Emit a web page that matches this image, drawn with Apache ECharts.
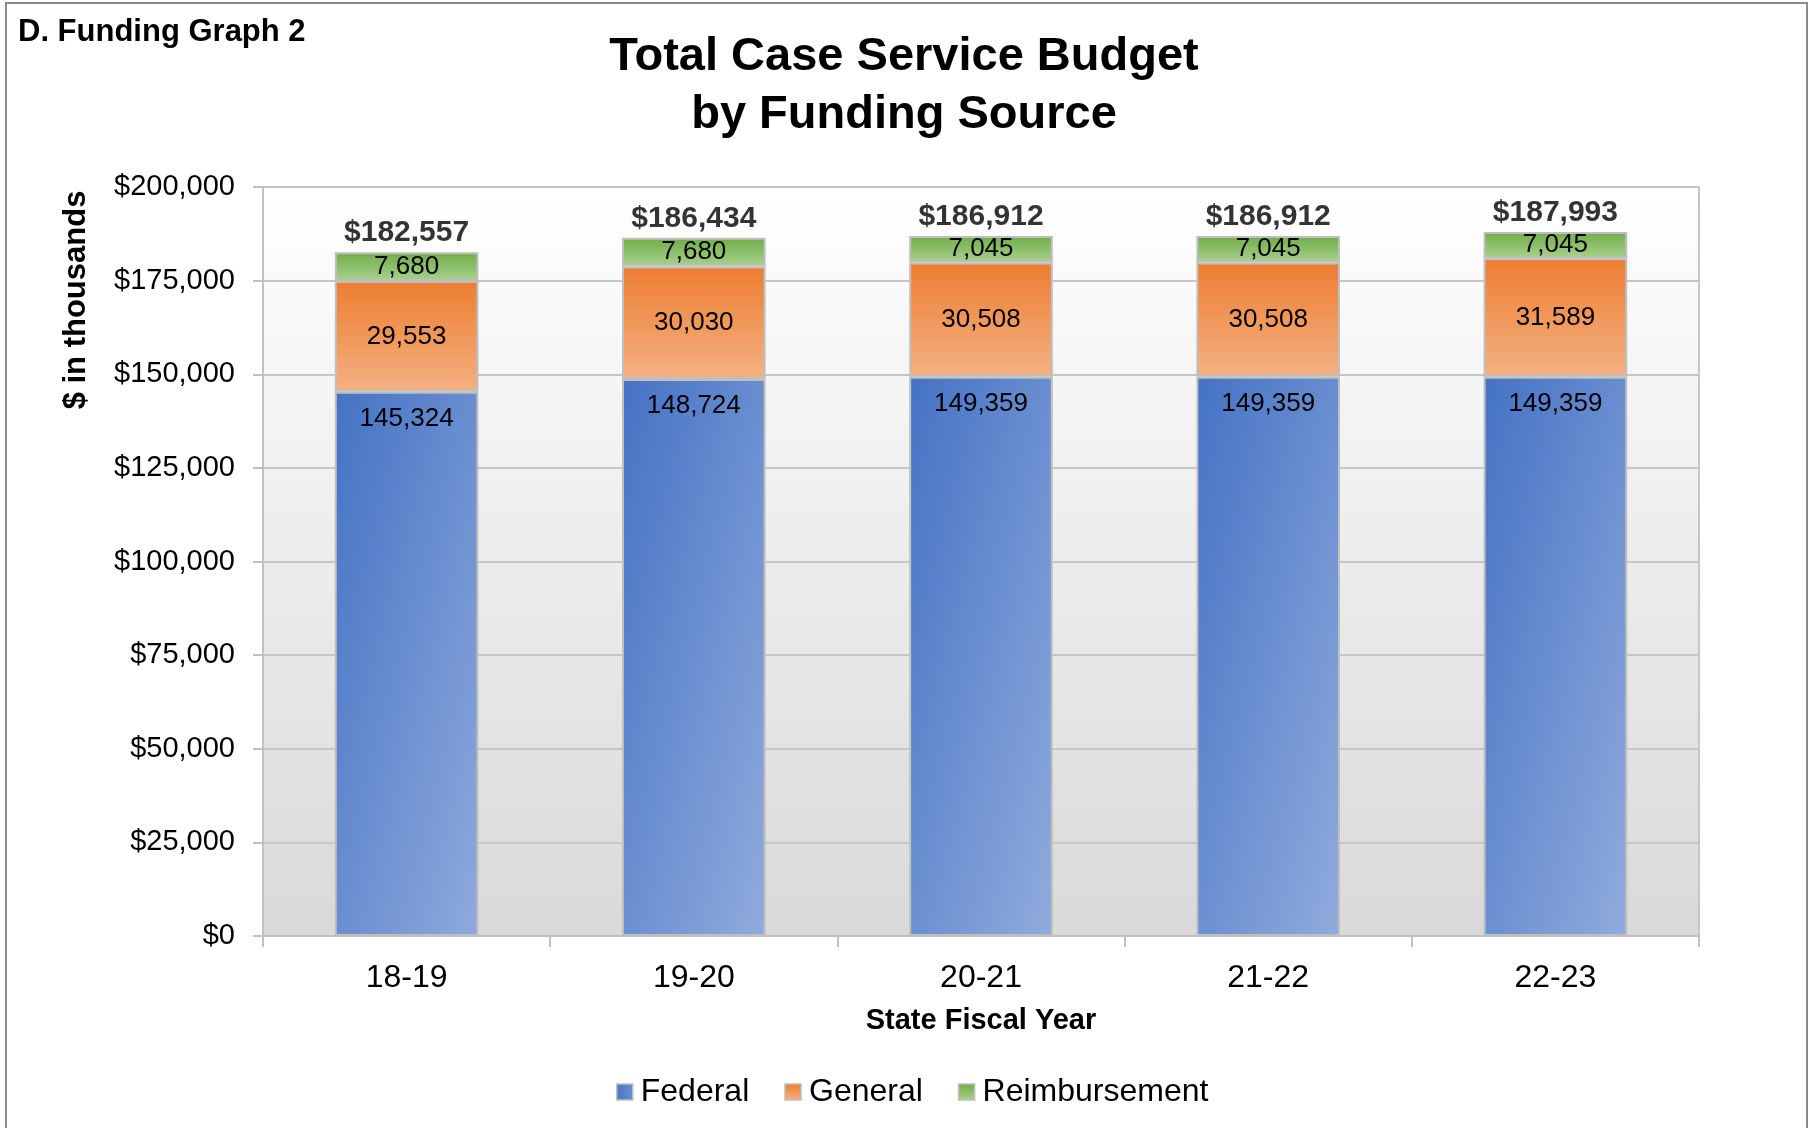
<!DOCTYPE html>
<html>
<head>
<meta charset="utf-8">
<title>Total Case Service Budget by Funding Source</title>
<script src="https://cdn.jsdelivr.net/npm/echarts@6/dist/echarts.min.js"></script>
<style>
  html, body { margin: 0; padding: 0; background: #fff; }
  #main { width: 1808px; height: 1128px; }
</style>
</head>
<body>
<div id="main"></div>
<script>
  // 数据
  var years = ['18-19', '19-20', '20-21', '21-22', '22-23'];
  var federal = [145324, 148724, 149359, 149359, 149359];
  var general = [29553, 30030, 30508, 30508, 31589];
  var reimbursement = [7680, 7680, 7045, 7045, 7045];
  var totals = [182557, 186434, 186912, 186912, 187993];
  var yTicks = [0, 25000, 50000, 75000, 100000, 125000, 150000, 175000, 200000];

  var FONT = 'Liberation Sans, Arial, sans-serif';

  function fmt(v) {
    return Number(v).toLocaleString('en-US');
  }

  var myChart = echarts.init(document.getElementById('main'));

  // 蓝色: 斜向渐变 (左上深 -> 右下浅), 按柱子宽高比换算方向
  var blue = new echarts.graphic.LinearGradient(0, 0, 1.87, 0.13, [
    { offset: 0, color: '#4472c4' },
    { offset: 1, color: '#8faadc' }
  ]);
  var orange = new echarts.graphic.LinearGradient(0, 0, 0, 1, [
    { offset: 0, color: '#ed7d31' },
    { offset: 1, color: '#f4b183' }
  ]);
  var green = new echarts.graphic.LinearGradient(0, 0, 0, 1, [
    { offset: 0, color: '#70ad47' },
    { offset: 1, color: '#a9d18e' }
  ]);

  var option = {
    animation: false,
    textStyle: { fontFamily: FONT, color: '#000' },
    title: [
      {
        text: 'Total Case Service Budget\nby Funding Source',
        left: 'center',
        top: 23,
        textStyle: { fontFamily: FONT, fontSize: 47, fontWeight: 'bold', lineHeight: 58, color: '#000' }
      },
      {
        text: 'D. Funding Graph 2',
        left: 13,
        top: 12,
        textStyle: { fontFamily: FONT, fontSize: 31, fontWeight: 'bold', color: '#000' }
      }
    ],
    legend: {
      data: ['Federal', 'General', 'Reimbursement'],
      left: 611,
      top: 1071,
      icon: 'rect',
      itemWidth: 16,
      itemHeight: 16,
      itemGap: 35,
      itemStyle: { borderColor: '#bfbfbf', borderWidth: 1.5 },
      textStyle: { fontFamily: FONT, fontSize: 32, color: '#000', padding: [0, 0, 0, 3] }
    },
    grid: {
      left: 263,
      top: 187,
      right: 109,
      bottom: 192,
      outerBoundsMode: 'none',
      show: true,
      borderColor: '#c6c6c6',
      borderWidth: 2,
      backgroundColor: new echarts.graphic.LinearGradient(0, 0, 0, 1, [
        { offset: 0, color: '#ffffff' },
        { offset: 1, color: '#d9d9d9' }
      ])
    },
    xAxis: {
      type: 'category',
      data: years,
      name: 'State Fiscal Year',
      nameLocation: 'middle',
      nameGap: 70,
      nameTextStyle: { fontFamily: FONT, fontSize: 29, fontWeight: 'bold', color: '#000' },
      axisLine: { lineStyle: { color: '#c0c0c0', width: 2 } },
      axisTick: { show: true, length: 11, lineStyle: { color: '#c0c0c0', width: 2 } },
      axisLabel: { fontFamily: FONT, fontSize: 32, color: '#000', margin: 26 }
    },
    yAxis: {
      type: 'value',
      min: yTicks[0],
      max: yTicks[yTicks.length - 1],
      interval: yTicks[1] - yTicks[0],
      axisLine: { show: true, lineStyle: { color: '#c0c0c0', width: 2 } },
      axisTick: { show: true, length: 10, lineStyle: { color: '#c0c0c0', width: 2 } },
      axisLabel: {
        fontFamily: FONT,
        fontSize: 29,
        color: '#000',
        margin: 28,
        formatter: function (v) { return '$' + fmt(v); }
      },
      splitLine: { show: true, lineStyle: { color: '#c6c6c6', width: 2 } }
    },
    series: [
      {
        name: 'Federal',
        type: 'bar',
        stack: 'total',
        barWidth: '50%',
        data: federal,
        itemStyle: { color: blue, borderColor: '#bfbfbf', borderWidth: 2 },
        label: {
          show: true,
          position: 'insideTop',
          distance: 14,
          fontFamily: FONT,
          fontSize: 26,
          color: '#000',
          formatter: function (p) { return fmt(p.value); }
        }
      },
      {
        name: 'General',
        type: 'bar',
        stack: 'total',
        data: general,
        itemStyle: { color: orange, borderColor: '#bfbfbf', borderWidth: 2 },
        label: {
          show: true,
          position: 'inside',
          fontFamily: FONT,
          fontSize: 26,
          color: '#000',
          formatter: function (p) { return fmt(p.value); }
        }
      },
      {
        name: 'Reimbursement',
        type: 'bar',
        stack: 'total',
        data: reimbursement,
        itemStyle: { color: green, borderColor: '#bfbfbf', borderWidth: 2 },
        label: {
          show: true,
          position: 'inside',
          fontFamily: FONT,
          fontSize: 26,
          color: '#000',
          formatter: function (p) { return fmt(p.value); }
        }
      },
      {
        // 总计标签
        name: 'Total',
        type: 'scatter',
        data: totals,
        symbolSize: 1,
        itemStyle: { color: 'rgba(0,0,0,0)' },
        z: 5,
        label: {
          show: true,
          position: 'top',
          distance: 4,
          fontFamily: FONT,
          fontSize: 30,
          fontWeight: 'bold',
          color: '#000',
          formatter: function (p) { return '$' + fmt(p.value); }
        }
      }
    ],
    graphic: [
      {
        type: 'text',
        x: 76,
        y: 300,
        rotation: Math.PI / 2,
        style: {
          text: '$ in thousands',
          font: 'bold 31px ' + FONT,
          fill: '#000',
          textAlign: 'center',
          textVerticalAlign: 'middle'
        }
      },
      {
        type: 'rect',
        shape: { x: 6, y: 3, width: 1801, height: 1140 },
        style: { fill: 'none', stroke: '#8a8a8a', lineWidth: 2 },
        silent: true
      }
    ]
  };

  myChart.setOption(option);
</script>
</body>
</html>
